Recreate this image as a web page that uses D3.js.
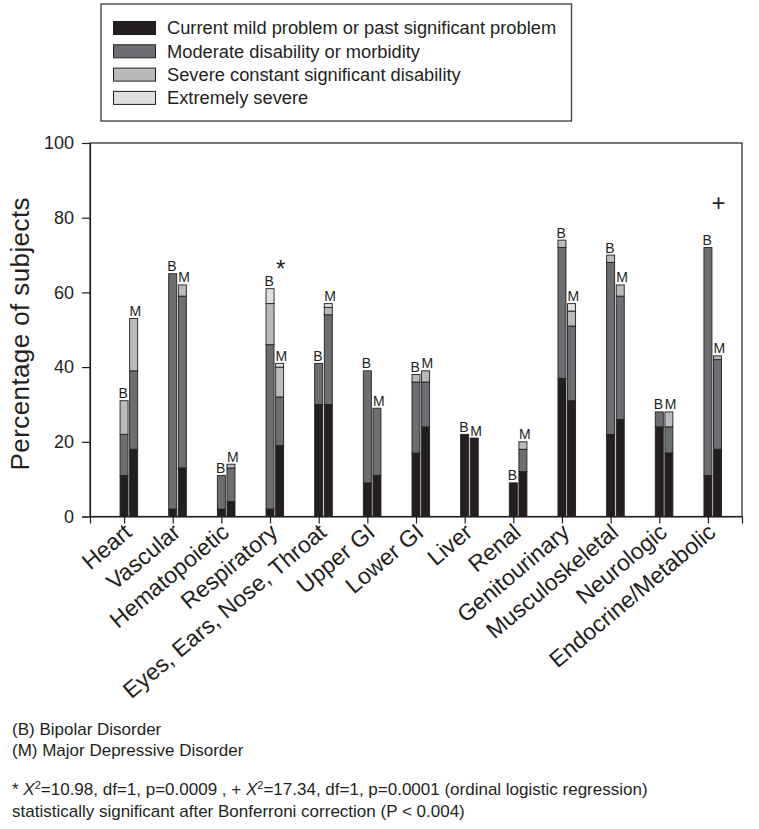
<!DOCTYPE html>
<html>
<head>
<meta charset="utf-8">
<script src="https://cdn.jsdelivr.net/npm/d3@7/dist/d3.min.js"></script>
<style>
  html, body { margin: 0; padding: 0; background: #fff; }
  svg { display: block; font-family: "Liberation Sans", Arial, Helvetica, sans-serif; }
</style>
</head>
<body>
<svg id="chart" width="759" height="829"></svg>
<script>
// ---- data ----
const categories = ["Heart", "Vascular", "Hematopoietic", "Respiratory", "Eyes, Ears, Nose, Throat",
  "Upper GI", "Lower GI", "Liver", "Renal", "Genitourinary", "Musculoskeletal", "Neurologic", "Endocrine/Metabolic"];
const levels = ["Current mild problem or past significant problem", "Moderate disability or morbidity",
  "Severe constant significant disability", "Extremely severe"];
const groups = ["B", "M"];

// Bipolar Disorder (B)
const bipolarMild     = [11, 2, 2, 2, 30, 9, 17, 22, 9, 37, 22, 24, 11];
const bipolarModerate = [11, 63, 9, 44, 11, 30, 19, 0, 0, 35, 46, 4, 61];
const bipolarSevere   = [9, 0, 0, 11, 0, 0, 2, 0, 0, 2, 2, 0, 0];
const bipolarExtreme  = [0, 0, 0, 4, 0, 0, 0, 0, 0, 0, 0, 0, 0];
// Major Depressive Disorder (M)
const mddMild     = [18, 13, 4, 19, 30, 11, 24, 21, 12, 31, 26, 17, 18];
const mddModerate = [21, 46, 9, 13, 24, 18, 12, 0, 6, 20, 33, 7, 24];
const mddSevere   = [14, 3, 1, 8, 2, 0, 3, 0, 2, 4, 3, 4, 1];
const mddExtreme  = [0, 0, 0, 1, 1, 0, 0, 0, 0, 2, 0, 0, 0];

const yTicks = [0, 20, 40, 60, 80, 100];
const significance = [
  { category: "Respiratory", symbol: "*", value: 68 },
  { category: "Endocrine/Metabolic", symbol: "+", value: 84 }
];
const footnotes = ["(B) Bipolar Disorder", "(M) Major Depressive Disorder"];

// ---- build table ----
const series = {
  B: [bipolarMild, bipolarModerate, bipolarSevere, bipolarExtreme],
  M: [mddMild, mddModerate, mddSevere, mddExtreme]
};
const rows = [];
categories.forEach((c, i) => {
  groups.forEach(g => {
    const r = { category: c, group: g };
    levels.forEach((l, k) => r[l] = series[g][k][i]);
    r.total = levels.reduce((s, l) => s + r[l], 0);
    rows.push(r);
  });
});

// ---- layout ----
const colors = ["#231f20", "#6d6e71", "#b9babc", "#dfe0e1"];
const ink = "#231f20";
const plotL = 90, plotR = 742, plotT = 143, plotB = 516.5;
const barW = 8, groupOffset = { B: 0, M: 9.6 }, labelShift = { B: -0.8, M: 1.8 };

const svg = d3.select("#chart");
const x = d3.scalePoint().domain(categories).range([plotL, plotR]).padding(0.7);
const y = d3.scaleLinear().domain([0, 100]).range([plotB, plotT]);
const color = d3.scaleOrdinal().domain(levels).range(colors);

// frame
svg.append("rect").attr("x", plotL).attr("y", plotT).attr("width", plotR - plotL).attr("height", plotB - plotT)
  .attr("fill", "none").attr("stroke", ink).attr("stroke-width", 1.2);

// y axis
const yAxis = svg.append("g").attr("transform", `translate(${plotL},0)`)
  .call(d3.axisLeft(y).tickValues(yTicks).tickSize(8).tickPadding(8));
yAxis.select(".domain").attr("stroke", ink).attr("stroke-width", 1.2);
yAxis.selectAll(".tick line").attr("stroke", ink).attr("stroke-width", 1.2);
yAxis.selectAll(".tick text").attr("font-size", 18).attr("fill", ink)
  .attr("font-family", "Liberation Sans, Arial, sans-serif");

// x axis
const xAxis = svg.append("g").attr("transform", `translate(0,${plotB})`)
  .call(d3.axisBottom(x).tickSize(7).tickFormat(""));
xAxis.select(".domain").attr("stroke", ink).attr("stroke-width", 1.2);
xAxis.selectAll(".tick line").attr("stroke", ink).attr("stroke-width", 1.2);

svg.append("g").selectAll("text").data(categories).join("text")
  .attr("transform", d => `translate(${x(d) + 4},${plotB + 12}) rotate(-40)`)
  .attr("text-anchor", "end").attr("dy", "0.35em")
  .attr("font-size", 23).attr("fill", ink).text(d => d);

// y title
svg.append("text")
  .attr("transform", `translate(20,${(plotT + plotB) / 2 + 4}) rotate(-90)`)
  .attr("text-anchor", "middle").attr("dy", "0.35em")
  .attr("font-size", 26).attr("letter-spacing", 0.4).attr("fill", ink).text("Percentage of subjects");

// bars
const stack = d3.stack().keys(levels);
const stacked = stack(rows);
const barG = svg.append("g");
stacked.forEach(layer => {
  barG.append("g").attr("fill", color(layer.key)).selectAll("rect")
    .data(layer.filter(d => d[1] - d[0] > 0)).join("rect")
    .attr("x", d => x(d.data.category) + groupOffset[d.data.group] - barW / 2)
    .attr("width", barW)
    .attr("y", d => y(d[1]))
    .attr("height", d => y(d[0]) - y(d[1]))
    .attr("stroke", ink).attr("stroke-width", 0.9);
});

// B / M labels
svg.append("g").selectAll("text").data(rows).join("text")
  .attr("x", d => x(d.category) + groupOffset[d.group] + labelShift[d.group])
  .attr("y", d => y(d.total) - 2.5)
  .attr("text-anchor", "middle").attr("font-size", 14).attr("fill", ink)
  .text(d => d.group);

// significance markers
svg.append("g").selectAll("text").data(significance).join("text")
  .attr("x", d => x(d.category) + groupOffset.M + 1)
  .attr("y", d => y(d.value))
  .attr("dy", d => d.symbol === "*" ? "0.6em" : "0.35em")
  .attr("text-anchor", "middle").attr("font-size", 24)
  .attr("fill", ink).text(d => d.symbol);

// legend
const lg = svg.append("g");
lg.append("rect").attr("x", 101).attr("y", 4).attr("width", 470.5).attr("height", 117)
  .attr("fill", "#fff").attr("stroke", "#3a3a3a").attr("stroke-width", 1.3);
levels.forEach((l, i) => {
  const ry = 21.5 + i * 23.3;
  lg.append("rect").attr("x", 113.5).attr("y", ry).attr("width", 42).attr("height", 13)
    .attr("fill", colors[i]).attr("stroke", ink).attr("stroke-width", 1);
  lg.append("text").attr("x", 167).attr("y", ry + 6.5).attr("dy", "0.35em")
    .attr("font-size", 18.3).attr("fill", ink).text(l);
});

// footnotes
svg.append("g").selectAll("text").data(footnotes).join("text")
  .attr("x", 12).attr("y", (d, i) => 735 + i * 21)
  .attr("font-size", 17).attr("fill", ink).text(d => d);

const stat = svg.append("text").attr("x", 12).attr("y", 795).attr("font-size", 17).attr("fill", ink);
stat.append("tspan").text("* ");
stat.append("tspan").attr("font-style", "italic").text("X");
stat.append("tspan").attr("font-size", 11).attr("dy", -6).text("2");
stat.append("tspan").attr("dy", 6).text("=10.98, df=1, p=0.0009 , + ");
stat.append("tspan").attr("font-style", "italic").text("X");
stat.append("tspan").attr("font-size", 11).attr("dy", -6).text("2");
stat.append("tspan").attr("dy", 6).text("=17.34, df=1, p=0.0001 (ordinal logistic regression)");

svg.append("text").attr("x", 12).attr("y", 817).attr("font-size", 17).attr("fill", ink)
  .text("statistically significant after Bonferroni correction (P < 0.004)");
</script>
</body>
</html>
